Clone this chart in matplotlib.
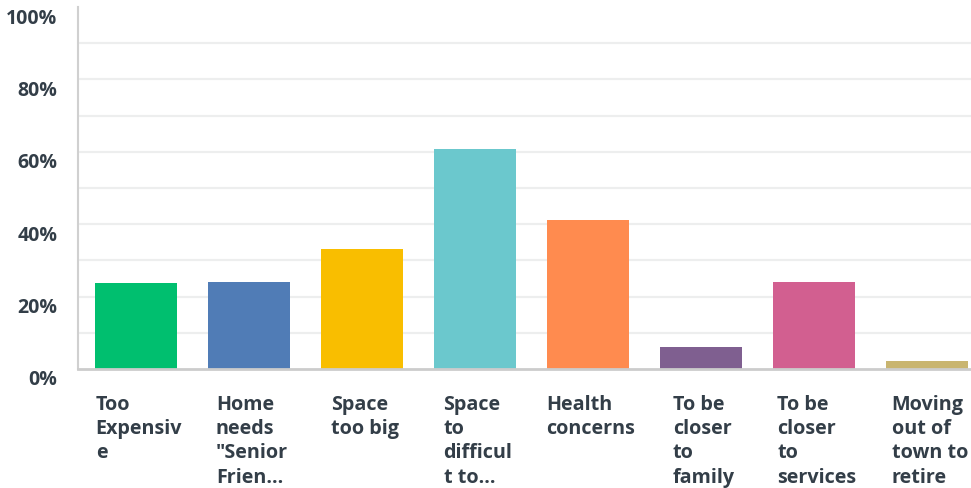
import matplotlib
matplotlib.use("Agg")
import matplotlib.pyplot as plt
import matplotlib.transforms as mtransforms

categories = ["Too\nExpensiv\ne", "Home\nneeds\n\"Senior\nFrien...", "Space\ntoo big",
              "Space\nto\ndifficul\nt to...", "Health\nconcerns", "To be\ncloser\nto\nfamily",
              "To be\ncloser\nto\nservices", "Moving\nout of\ntown to\nretire"]
values = [23.8, 24.0, 33.1, 60.8, 41.2, 6.1, 24.0, 2.2]
colors = ["#00BF6F", "#507CB6", "#F9BE00", "#6BC8CD", "#FF8B4F", "#7F5F90", "#D25F90", "#C9B570"]
ytick_vals = [0, 20, 40, 60, 80, 100]
ytick_labels = ["0%", "20%", "40%", "60%", "80%", "100%"]

text_color = "#333E48"
fam = ["Open Sans", "DejaVu Sans"]

fig = plt.figure(figsize=(9.71, 4.89), dpi=100)
ax = fig.add_axes([78/971, (489-370)/489, (971-78)/971, 362/489])

x = list(range(len(values)))
ax.bar(x, values, width=0.726, color=colors, zorder=3)
ax.set_xlim(-0.513, 7.39)
ax.set_ylim(0, 100)

for g in range(10, 100, 10):
    ax.axhline(g, color="#EDEEEE", lw=1.6, zorder=1)

for s in ["top", "right"]:
    ax.spines[s].set_visible(False)
ax.spines["left"].set_color("#D0D0D0")
ax.spines["left"].set_linewidth(1.5)
ax.spines["bottom"].set_color("#CCCCCC")
ax.spines["bottom"].set_linewidth(2)
ax.spines["bottom"].set_zorder(4)

ax.set_yticks(ytick_vals)
ax.set_yticklabels(ytick_labels, fontsize=14, fontweight="bold", color=text_color, family=fam)
ax.tick_params(axis="y", length=0, pad=15)
offset = mtransforms.ScaledTranslation(0, -0.08, fig.dpi_scale_trans)
for lab in ax.get_yticklabels():
    lab.set_transform(lab.get_transform() + offset)

ax.set_xticks([])
label_shift = mtransforms.ScaledTranslation(0.03, 0, fig.dpi_scale_trans)
for xi, lab in zip(x, categories):
    ax.text(xi, -6.9, lab, ha="center", va="top", multialignment="left",
            fontsize=14.2, fontweight="bold", color=text_color, family=fam,
            linespacing=1.28, transform=ax.transData + label_shift, clip_on=False)

fig.savefig("out.png", dpi=100, facecolor="white")
